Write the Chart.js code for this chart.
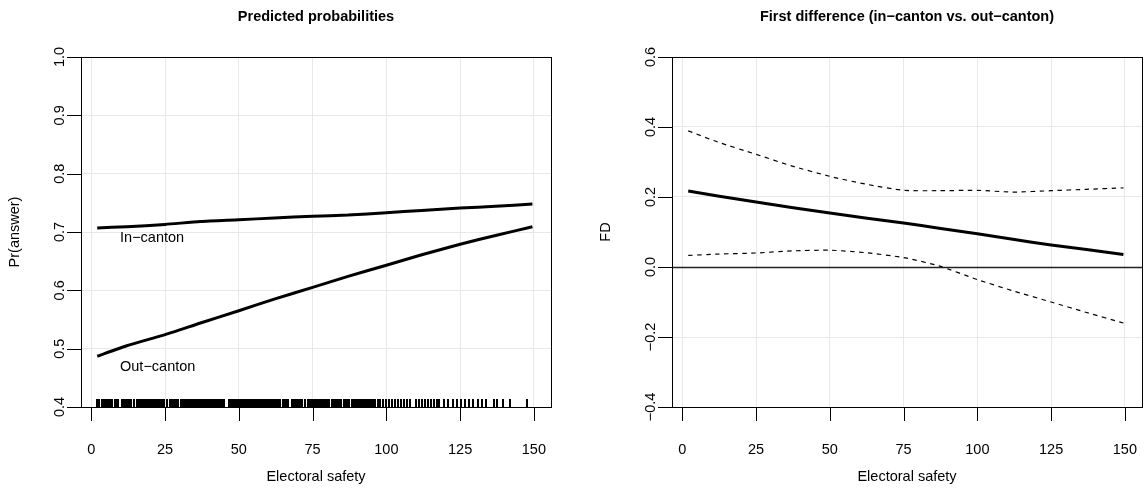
<!DOCTYPE html>
<html>
<head>
<meta charset="utf-8">
<script src="https://cdn.jsdelivr.net/npm/chart.js@4.4.1/dist/chart.umd.min.js"></script>
<style>
  body { margin: 0; background: #fff; }
  .panel { position: absolute; top: 0; }
</style>
</head>
<body>
<div class="panel" style="left:0"><canvas id="probs" width="572" height="488"></canvas></div>
<div class="panel" style="left:572px"><canvas id="diff" width="573" height="488"></canvas></div>
<script>
// tick labels
const safetyTicks = [0, 25, 50, 75, 100, 125, 150];
const probTicks = [0.4, 0.5, 0.6, 0.7, 0.8, 0.9, 1.0];
const fdTicks = [-0.4, -0.2, 0.0, 0.2, 0.4, 0.6];

// predicted probabilities
const safety = [2, 12, 25, 37, 50, 62, 75, 87, 100, 112, 125, 137, 149.5];
const inCanton = [0.707, 0.709, 0.713, 0.718, 0.721, 0.724, 0.727, 0.729, 0.733, 0.737, 0.741, 0.744, 0.748];
const outCanton = [0.487, 0.505, 0.524, 0.544, 0.565, 0.585, 0.605, 0.624, 0.643, 0.661, 0.679, 0.694, 0.709];

// first difference and its bounds
const fdSafety = [2, 12, 25, 37, 50, 62, 75, 87, 100, 112, 125, 137, 149.5];
const fdMean = [0.217, 0.203, 0.186, 0.170, 0.154, 0.140, 0.126, 0.111, 0.095, 0.079, 0.063, 0.050, 0.036];
const fdUpper = [0.389, 0.357, 0.322, 0.289, 0.259, 0.237, 0.219, 0.218, 0.219, 0.214, 0.218, 0.222, 0.226];
const fdLower = [0.033, 0.037, 0.040, 0.046, 0.048, 0.041, 0.027, 0.003, -0.036, -0.068, -0.100, -0.130, -0.160];

// observed electoral safety (rug)
const rugSafety = [
  2, 2.5, 3.5, 4, 4.5, 5, 5.5, 6, 6.5, 7, 8, 8.5, 9, 10.5, 11, 11.5, 12, 12.5, 13, 13.5,
  14.5, 15.5, 16, 16.5, 17, 17.5, 18, 18.5, 19, 19.5, 20, 20.5, 21, 21.5, 22, 22.5, 23, 23.5,
  24, 24.5, 25.5, 26.5, 27, 27.5, 28, 28.5, 29, 29.5, 30.5, 31, 31.5, 32, 32.5, 33, 33.5,
  34, 34.5, 35, 35.5, 36, 36.5, 37, 37.5, 38, 38.5, 39, 39.5, 40, 40.5, 41, 41.5, 42, 42.5,
  43, 43.5, 44, 44.5, 45, 46.5, 47, 47.5, 48, 48.5, 49, 49.5, 50, 50.5, 51, 51.5, 52, 52.5,
  53, 53.5, 54, 54.5, 55, 55.5, 56, 56.5, 57, 57.5, 58, 58.5, 59, 59.5, 60, 60.5, 61, 61.5,
  62, 62.5, 63, 63.5, 64, 65, 65.5, 66, 66.5, 68, 68.5, 69, 69.5, 70, 70.5, 71, 71.5, 72.5,
  73.5, 74, 74.5, 75, 75.5, 76, 76.5, 77, 78, 78.5, 79, 79.5, 80, 80.5, 81.5, 82, 82.5, 83,
  83.5, 84, 84.5, 85.5, 86, 86.5, 87, 87.5, 88.5, 89, 89.5, 90, 90.5, 91, 91.5, 92, 92.5,
  93, 93.5, 94, 94.5, 95, 95.5, 96, 97, 98, 99, 100, 101, 102, 103, 104, 105, 106, 107, 108,
  110, 111, 112, 113, 114, 115, 116, 117, 118, 119.5, 121, 122.7, 124, 125.2, 126.5, 128,
  129.5, 131, 132.3, 133.6, 136.4, 137.6, 139.7, 142, 147.8
];

const FONT = '"Liberation Sans", Arial, Helvetica, sans-serif';
const MINUS = '\u2212';

function fmt(v) {
  const s = v.toFixed(1);
  return v < 0 ? MINUS + s.slice(1) : s;
}

// R-style box, ticks, rotated labels, rug and annotations
const rPlot = {
  id: 'rPlot',
  beforeDatasetsDraw(chart, args, o) {
    const { ctx, chartArea: a, scales: { y } } = chart;
    if (o.zeroLine) {
      const py = Math.round(y.getPixelForValue(0)) + 0.5;
      ctx.save();
      ctx.strokeStyle = '#222';
      ctx.lineWidth = 1.5;
      ctx.beginPath();
      ctx.moveTo(a.left, py);
      ctx.lineTo(a.right, py);
      ctx.stroke();
      ctx.restore();
    }
  },
  afterDraw(chart, args, o) {
    const { ctx, chartArea: a, scales: { x, y } } = chart;
    ctx.save();
    ctx.strokeStyle = '#000';
    ctx.lineWidth = 1;
    ctx.strokeRect(a.left + 0.5, a.top + 0.5, a.right - a.left, a.bottom - a.top);

    ctx.beginPath();
    safetyTicks.forEach(v => {
      const px = Math.round(x.getPixelForValue(v)) + 0.5;
      ctx.moveTo(px, a.bottom);
      ctx.lineTo(px, a.bottom + 14);
    });
    o.yTicks.forEach(v => {
      const py = Math.round(y.getPixelForValue(v)) + 0.5;
      ctx.moveTo(a.left - 14, py);
      ctx.lineTo(a.left, py);
    });
    ctx.stroke();

    if (o.rug) {
      ctx.save();
      ctx.lineWidth = 2;
      ctx.beginPath();
      o.rug.forEach(v => {
        const px = Math.round(x.getPixelForValue(v));
        ctx.moveTo(px, a.bottom);
        ctx.lineTo(px, a.bottom - 8);
      });
      ctx.stroke();
      ctx.restore();
    }

    ctx.fillStyle = '#000';
    ctx.textAlign = 'center';
    ctx.textBaseline = 'middle';
    ctx.font = '14.5px ' + FONT;
    safetyTicks.forEach(v => ctx.fillText(String(v), x.getPixelForValue(v), 450));
    ctx.fillText('Electoral safety', (a.left + a.right) / 2, 477);

    (o.notes || []).forEach(n => ctx.fillText(n.text, x.getPixelForValue(n.x), y.getPixelForValue(n.y)));

    o.yTicks.forEach(v => {
      ctx.save();
      ctx.translate(a.left - 21, y.getPixelForValue(v));
      ctx.rotate(-Math.PI / 2);
      ctx.fillText(fmt(v), 0, 0);
      ctx.restore();
    });
    ctx.save();
    ctx.translate(a.left - 66, (a.top + a.bottom) / 2);
    ctx.rotate(-Math.PI / 2);
    ctx.fillText(o.yTitle, 0, 0);
    ctx.restore();

    ctx.font = 'bold 14.5px ' + FONT;
    ctx.fillText(o.title, (a.left + a.right) / 2, 17);
    ctx.restore();
  }
};

function series(xs, ys, width, dash) {
  return {
    data: xs.map((v, i) => ({ x: v, y: ys[i] })),
    borderColor: '#000',
    borderWidth: width,
    borderDash: dash || [],
    pointRadius: 0,
    tension: 0.2,
    fill: false
  };
}

function panel(id, datasets, yTicks, leftW, padRight, extras) {
  return new Chart(document.getElementById(id), {
    type: 'line',
    data: { datasets: datasets },
    options: {
      responsive: false,
      animation: false,
      layout: { padding: { left: 0, top: 57, right: padRight, bottom: 0 } },
      plugins: {
        legend: { display: false },
        tooltip: { enabled: false },
        rPlot: Object.assign({ yTicks: yTicks }, extras)
      },
      scales: {
        x: {
          type: 'linear', min: -3.5, max: 155.8,
          afterBuildTicks: s => { s.ticks = safetyTicks.map(v => ({ value: v })); },
          afterFit: s => { s.height = 81; },
          ticks: { display: false },
          border: { display: false },
          grid: { color: '#e8e8e8', lineWidth: 1, drawTicks: false }
        },
        y: {
          type: 'linear', min: yTicks[0], max: yTicks[yTicks.length - 1],
          afterBuildTicks: s => { s.ticks = yTicks.map(v => ({ value: v })); },
          afterFit: s => { s.width = leftW; },
          ticks: { display: false },
          border: { display: false },
          grid: { color: '#e8e8e8', lineWidth: 1, drawTicks: false }
        }
      }
    },
    plugins: [rPlot]
  });
}

panel('probs',
  [series(safety, inCanton, 3), series(safety, outCanton, 3)],
  probTicks, 81, 21,
  {
    title: 'Predicted probabilities',
    yTitle: 'Pr(answer)',
    rug: rugSafety,
    notes: [
      { text: 'In' + MINUS + 'canton', x: 20.6, y: 0.689 },
      { text: 'Out' + MINUS + 'canton', x: 22.5, y: 0.469 }
    ]
  });

panel('diff',
  [series(fdSafety, fdMean, 3), series(fdSafety, fdUpper, 1.2, [4.5, 4.5]), series(fdSafety, fdLower, 1.2, [4.5, 4.5])],
  fdTicks, 100, 3,
  {
    title: 'First difference (in' + MINUS + 'canton vs. out' + MINUS + 'canton)',
    yTitle: 'FD',
    zeroLine: true
  });
</script>
</body>
</html>
